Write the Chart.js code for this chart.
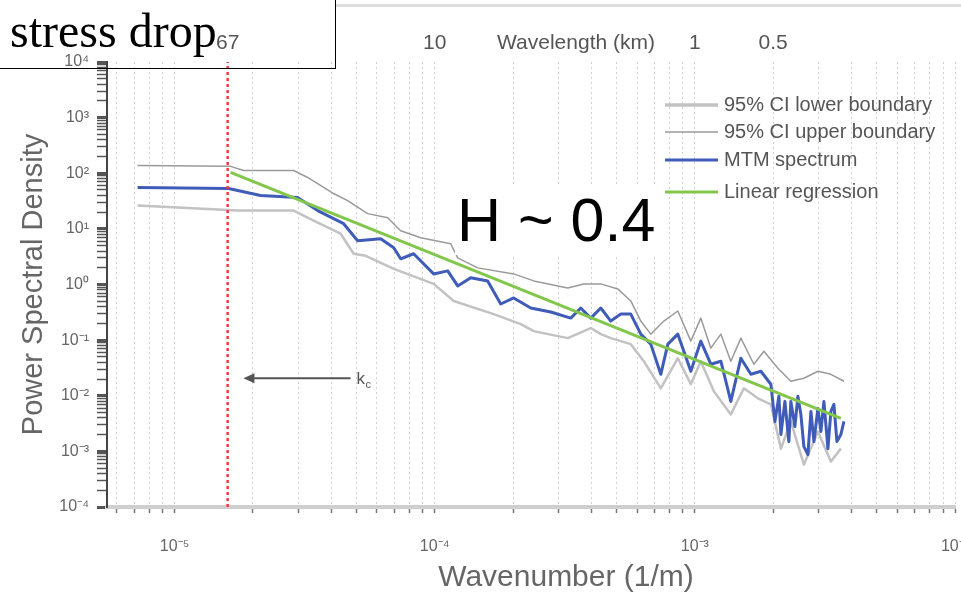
<!DOCTYPE html>
<html>
<head>
<meta charset="utf-8">
<title>Power spectral density</title>
<script src="https://cdn.jsdelivr.net/npm/chart.js@4.4.1/dist/chart.umd.min.js"></script>
<style>
  body { margin: 0; background: #fff; }
  #wrap { position: relative; width: 961px; height: 597px; overflow: hidden; }
  #topline { position: absolute; left: 336px; top: 4px; width: 625px; height: 3px; background: #dedede; }
  #stress { position: absolute; left: -2px; top: -2px; width: 336px; height: 69px; border: 1.5px solid #000; background: transparent; }
  #stressText { position: absolute; left: 10px; top: 7px; font-family: "Liberation Serif", serif; font-size: 48px; line-height: 48px; color: #000; white-space: nowrap; }
  #hbox { position: absolute; left: 455px; top: 185px; width: 210px; height: 70px; background: #fff; }
  #hText { position: absolute; left: 457px; top: 190px; font-family: "Liberation Sans", Arial, sans-serif; font-size: 61px; line-height: 61px; color: #000; white-space: nowrap; }
</style>
</head>
<body>
<div id="wrap">
  <canvas id="psdChart" width="961" height="597"></canvas>
  <div id="topline"></div>
  <div id="stress"></div>
  <div id="stressText">stress drop</div>
  <div id="hbox"></div>
  <div id="hText">H ~ 0.4</div>
</div>
<script>
// wavenumber (1/m) and power spectral density
var mtmK = [7.21e-6, 1.613e-5, 2.142e-5, 2.972e-5, 3.548e-5, 4.467e-5, 5.056e-5, 6.20e-5, 6.96e-5, 7.40e-5,
  8.30e-5, 9.91e-5, 1.122e-4, 1.226e-4, 1.376e-4, 1.598e-4, 1.794e-4, 2.013e-4, 2.339e-4, 2.794e-4,
  3.334e-4, 3.642e-4, 3.981e-4, 4.350e-4, 4.752e-4, 5.192e-4, 5.673e-4, 6.198e-4, 6.771e-4, 7.398e-4,
  7.873e-4, 8.602e-4, 9.651e-4, 1.054e-3, 1.152e-3, 1.259e-3, 1.375e-3, 1.503e-3, 1.642e-3, 1.794e-3,
  1.960e-3, 2.031e-3, 2.104e-3, 2.142e-3, 2.219e-3, 2.298e-3, 2.339e-3, 2.424e-3, 2.489e-3, 2.556e-3,
  2.625e-3, 2.720e-3, 2.794e-3, 2.869e-3, 2.972e-3, 3.052e-3, 3.134e-3, 3.247e-3, 3.334e-3, 3.424e-3,
  3.517e-3, 3.642e-3, 3.741e-3];
var mtmPsd = [55.4, 53.2, 39.7, 36.6, 21.3, 12.4, 6.12, 6.66, 4.58, 2.90,
  3.57, 1.55, 1.76, 0.943, 1.32, 1.16, 0.446, 0.573, 0.378, 0.320,
  0.249, 0.378, 0.249, 0.378, 0.220, 0.294, 0.294, 0.128, 0.0847, 0.0243,
  0.0847, 0.128, 0.0276, 0.0959, 0.0369, 0.0418, 0.00792, 0.0473, 0.0243, 0.0276,
  0.0161, 0.00345, 0.00976, 0.00201, 0.00792, 0.00150, 0.00792, 0.00280, 0.00976, 0.00462,
  0.00122, 0.000876, 0.00523, 0.00150, 0.00592, 0.00228, 0.00792, 0.00112, 0.00523, 0.00700,
  0.00150, 0.00201, 0.00345];

var upperK = [7.21e-6, 1.642e-5, 1.842e-5, 2.869e-5, 3.247e-5, 4.088e-5, 4.627e-5, 5.525e-5, 6.596e-5, 7.40e-5,
  8.834e-5, 1.152e-4, 1.226e-4, 1.463e-4, 2.013e-4, 2.403e-4, 3.247e-4, 3.741e-4, 4.350e-4, 5.056e-4,
  5.673e-4, 6.198e-4, 6.771e-4, 7.598e-4, 8.602e-4, 9.651e-4, 1.054e-3, 1.152e-3, 1.259e-3, 1.375e-3,
  1.503e-3, 1.686e-3, 1.842e-3, 2.086e-3, 2.339e-3, 2.625e-3, 2.972e-3, 3.334e-3, 3.741e-3];
var upperPsd = [138, 133, 112, 112, 84.0, 43.2, 32.3, 18.8, 15.9, 9.28,
  6.94, 5.41, 3.02, 1.99, 1.55, 1.16, 0.868, 1.025, 1.025, 0.833,
  0.506, 0.220, 0.128, 0.220, 0.334, 0.0959, 0.249, 0.0717, 0.128, 0.0418,
  0.1087, 0.0369, 0.0633, 0.0312, 0.0182, 0.0206, 0.0276, 0.0243, 0.0182];

var lowerK = [7.21e-6, 1.747e-5, 2.869e-5, 3.424e-5, 4.350e-5, 4.881e-5, 5.429e-5, 6.96e-5, 9.91e-5, 1.183e-4,
  1.686e-4, 2.142e-4, 2.403e-4, 3.247e-4, 3.981e-4, 4.350e-4, 4.752e-4, 5.673e-4, 6.364e-4, 7.398e-4,
  8.602e-4, 9.651e-4, 1.054e-3, 1.183e-3, 1.375e-3, 1.543e-3, 1.747e-3, 1.960e-3, 2.142e-3, 2.339e-3,
  2.625e-3, 2.972e-3, 3.334e-3, 3.642e-3];
var lowerPsd = [26.2, 21.3, 21.3, 14.1, 8.19, 3.57, 3.28, 1.91, 1.025, 0.506,
  0.294, 0.194, 0.145, 0.1087, 0.165, 0.128, 0.1087, 0.0847, 0.0418, 0.0136,
  0.0473, 0.0161, 0.0418, 0.0120, 0.00462, 0.0136, 0.00898, 0.00700, 0.00112, 0.00345,
  0.000578, 0.00228, 0.000655, 0.00112];

var regK = [1.642e-5, 3.642e-3];
var regPsd = [103.4, 0.00391];

var kc = 1.6e-5; // corner wavenumber (red line)

// wavelength labels along the top
var topK = [1.6e-5, 1e-4, 1e-3, 2e-3];
var topLabels = ['67', '10', '1', '0.5'];

var xMin = 5.5e-6, xMax = 1e-2;
var yMin = 1e-4, yMax = 1e4;

function pts(xs, ys) {
    return xs.map(function (x, i) { return { x: x, y: ys[i] }; });
}

function logTicks(min, max) {
    var out = [];
    for (var e = Math.floor(Math.log10(min)); e <= Math.ceil(Math.log10(max)); e++) {
        for (var m = 1; m <= 9; m++) {
            var v = parseFloat(m + 'e' + e);
            if (v >= min * 0.999 && v <= max * 1.001) out.push({ value: v });
        }
    }
    return out;
}

var sup = { '-': '\u207B', '0': '\u2070', '1': '\u00B9', '2': '\u00B2', '3': '\u00B3', '4': '\u2074',
    '5': '\u2075', '6': '\u2076', '7': '\u2077', '8': '\u2078', '9': '\u2079' };

function isMajor(v) {
    var e = Math.log10(v);
    return Math.abs(e - Math.round(e)) < 1e-6;
}
function powLabel(v) {
    if (!isMajor(v)) return '';
    var e = String(Math.round(Math.log10(v)));
    return '10' + e.split('').map(function (c) { return sup[c]; }).join('');
}

var sans = '"Liberation Sans", Arial, sans-serif';

// legend, top axis, x title, k_c arrow
var extras = {
    id: 'extras',
    afterDatasetsDraw: function (chart) {
        var ctx = chart.ctx;
        var xs = chart.scales.x, ys = chart.scales.y;
        ctx.save();

        // top wavelength axis
        ctx.fillStyle = '#555';
        ctx.font = '21px ' + sans;
        ctx.textAlign = 'center';
        ctx.textBaseline = 'middle';
        topK.forEach(function (k, i) {
            ctx.fillText(topLabels[i], xs.getPixelForValue(k), 43);
        });
        ctx.fillText('Wavelength (km)', 576, 43);

        // x title
        ctx.fillStyle = '#666';
        ctx.font = '30px ' + sans;
        ctx.fillText('Wavenumber (1/m)', 566, 578);

        // legend
        var rows = [105, 132, 160, 192];
        var items = [1, 2, 3, 4];
        ctx.font = '20px ' + sans;
        ctx.textAlign = 'left';
        items.forEach(function (di, r) {
            var ds = chart.data.datasets[di];
            ctx.strokeStyle = ds.borderColor;
            ctx.lineWidth = ds.borderWidth + (di === 1 ? 1 : 0);
            ctx.setLineDash([]);
            ctx.beginPath();
            ctx.moveTo(665, rows[r]);
            ctx.lineTo(718, rows[r]);
            ctx.stroke();
            ctx.fillStyle = '#555';
            ctx.fillText(ds.label, 724, rows[r]);
        });

        // arrow to k_c
        var ay = ys.getPixelForValue(0.0206);
        var ax0 = xs.getPixelForValue(4.75e-5);
        var ax1 = xs.getPixelForValue(1.84e-5);
        ctx.strokeStyle = '#555';
        ctx.fillStyle = '#555';
        ctx.lineWidth = 2;
        ctx.beginPath();
        ctx.moveTo(ax0, ay);
        ctx.lineTo(ax1 + 8, ay);
        ctx.stroke();
        ctx.beginPath();
        ctx.moveTo(ax1, ay);
        ctx.lineTo(ax1 + 11, ay - 5);
        ctx.lineTo(ax1 + 11, ay + 5);
        ctx.closePath();
        ctx.fill();
        ctx.font = '17px ' + sans;
        ctx.fillText('k', ax0 + 6, ay + 1);
        ctx.font = '11px ' + sans;
        ctx.fillText('c', ax0 + 15, ay + 7);

        ctx.restore();
    }
};

var data = {
    datasets: [
        {
            label: 'k_c',
            data: pts([kc, kc], [yMin, yMax]),
            borderColor: '#f03c3c',
            borderWidth: 2.5,
            borderDash: [3, 3],
            pointRadius: 0,
            order: 0
        },
        {
            label: '95% CI lower boundary',
            data: pts(lowerK, lowerPsd),
            borderColor: '#c2c2c2',
            borderWidth: 2.5,
            pointRadius: 0,
            order: 4
        },
        {
            label: '95% CI upper boundary',
            data: pts(upperK, upperPsd),
            borderColor: '#9a9a9a',
            borderWidth: 1.5,
            pointRadius: 0,
            order: 3
        },
        {
            label: 'MTM spectrum',
            data: pts(mtmK, mtmPsd),
            borderColor: '#3f5cb8',
            borderWidth: 3,
            pointRadius: 0,
            order: 2
        },
        {
            label: 'Linear regression',
            data: pts(regK, regPsd),
            borderColor: '#82c64c',
            borderWidth: 3,
            pointRadius: 0,
            order: 1
        }
    ]
};

var tickFont = { family: sans, size: 16 };

var options = {
    responsive: false,
    animation: false,
    layout: { padding: { left: 0, right: 6, top: 62, bottom: 0 } },
    plugins: { legend: { display: false }, tooltip: { enabled: false } },
    elements: { line: { tension: 0, borderJoinStyle: 'round' } },
    scales: {
        x: {
            type: 'logarithmic',
            min: xMin,
            max: xMax,
            afterBuildTicks: function (s) { s.ticks = logTicks(xMin, xMax); },
            afterFit: function (s) { s.height = 90; s.paddingLeft = 0; s.paddingRight = 0; },
            ticks: { autoSkip: false, maxRotation: 0, color: '#666', font: tickFont, padding: 24, callback: powLabel },
            grid: { color: '#d2d2d2', lineWidth: 1, drawTicks: true, tickLength: 6, tickColor: '#777', tickWidth: 1.5, tickBorderDash: [] },
            border: { display: true, color: '#cfcfcf', width: 4, dash: [2, 3] }
        },
        y: {
            type: 'logarithmic',
            min: yMin,
            max: yMax,
            afterBuildTicks: function (s) { s.ticks = logTicks(yMin, yMax); },
            afterFit: function (s) { s.width = 107; },
            ticks: { autoSkip: false, color: '#666', font: tickFont, padding: 8, callback: powLabel },
            grid: {
                drawOnChartArea: false, drawTicks: true, tickLength: 10, tickColor: '#555',
                tickWidth: function (c) { return c.tick && isMajor(c.tick.value) ? 3 : 1.5; }
            },
            border: { display: true, color: '#444', width: 2 },
            title: { display: true, text: 'Power Spectral Density', color: '#666', font: { family: sans, size: 29 }, padding: { top: 17 } }
        }
    }
};

var ctx = document.getElementById('psdChart').getContext('2d');
new Chart(ctx, { type: 'line', data: data, options: options, plugins: [extras] });
</script>
</body>
</html>
